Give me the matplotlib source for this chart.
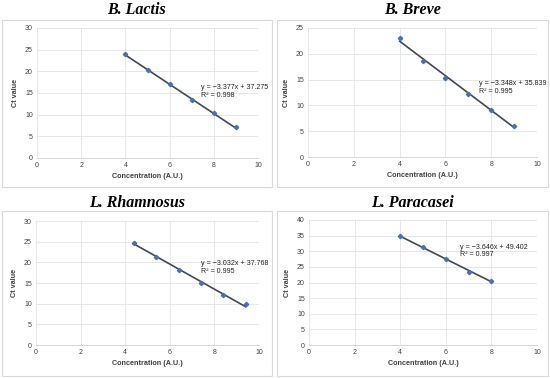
import matplotlib
matplotlib.use("Agg")
import matplotlib.pyplot as plt
from matplotlib.patches import Rectangle
import numpy as np

plt.rcParams['font.family'] = ['Liberation Sans', 'DejaVu Sans']

titles = ["B. Lactis", "B. Breve", "L. Rhamnosus", "L. Paracasei"]
x_lactis = [4, 5, 6, 7, 8, 9]
y_lactis = [24.0, 20.2, 17.0, 13.3, 10.3, 7.1]
x_breve = [4, 5, 6, 7, 8, 9]
y_breve = [23.0, 18.7, 15.4, 12.2, 9.1, 6.0]
x_rham = [4.4, 5.4, 6.4, 7.4, 8.4, 9.4]
y_rham = [24.7, 21.4, 18.2, 15.0, 12.0, 9.8]
x_para = [4, 5, 6, 7, 8]
y_para = [34.8, 31.3, 27.5, 23.4, 20.6]
slopes = [-3.377, -3.348, -3.032, -3.646]
intercepts = [37.275, 35.839, 37.768, 49.402]
r2 = [0.998, 0.995, 0.995, 0.997]
ymax = [30, 25, 30, 40]
eq_pos = [(7.44, 15.3), (7.47, 13.5), (7.42, 18.7), (6.63, 30.0)]

xs = [x_lactis, x_breve, x_rham, x_para]
ys = [y_lactis, y_breve, y_rham, y_para]

W, H = 550, 378
fig = plt.figure(figsize=(W / 100, H / 100), dpi=100)

# pixel boxes: (left, right, top, bottom)
axes_px = [(37, 258, 28, 158), (308, 537, 28, 157), (36, 259, 221, 345), (309, 537, 220, 345)]
frame_px = [(2, 272, 20, 187), (277, 548, 20, 187), (2, 272, 211, 376), (277, 548, 211, 376)]
title_y_px = [10, 10, 203, 203]

for i in range(4):
    fl, fr, ft, fb = frame_px[i]
    fig.patches.append(Rectangle((fl / W, 1 - fb / H), (fr - fl) / W, (fb - ft) / H,
                                 transform=fig.transFigure, fill=False,
                                 edgecolor="#d9d9d9", linewidth=0.8))
    l, r, t, b = axes_px[i]
    ax = fig.add_axes([l / W, 1 - b / H, (r - l) / W, (b - t) / H])
    ax.set_xlim(0, 10)
    ax.set_ylim(0, ymax[i])
    ax.set_xticks(np.arange(0, 11, 2))
    ax.set_yticks(np.arange(0, ymax[i] + 1, 5))
    ax.grid(True, color="#e3e3e3", linewidth=0.6)
    ax.set_axisbelow(True)
    for s in ["top", "right", "left"]:
        ax.spines[s].set_visible(False)
    ax.spines["bottom"].set_color("#d0d0d0")
    ax.spines["bottom"].set_linewidth(0.6)
    ax.tick_params(length=0, labelsize=5, colors="#404040", pad=3)
    xarr = np.array(xs[i])
    ax.plot(xarr, slopes[i] * xarr + intercepts[i], color="#3f4a55", linewidth=1.2, zorder=3)
    ax.plot(xs[i], ys[i], linestyle="none", marker="D", markersize=2.2,
            color="#4a6fb5", zorder=4)
    ex, ey = eq_pos[i]
    ax.text(ex, ey, f"y = \u2212{abs(slopes[i]):.3f}x + {intercepts[i]:.3f}\nR\u00b2 = {r2[i]:.3f}",
            fontsize=5.1, color="#222222", va="center", ha="left", linespacing=1.1, zorder=5,
            clip_on=False)
    ax.set_xlabel("Concentration (A.U.)", fontsize=5.2, color="#404040", fontweight="bold", labelpad=3)
    ax.set_ylabel("Ct value", fontsize=5.2, color="#404040", fontweight="bold", labelpad=4)
    fig.text((fl + fr) / 2 / W, 1 - title_y_px[i] / H, titles[i], ha="center", va="center",
             fontsize=11.5, fontstyle="italic", fontweight="bold", family="Liberation Serif")

fig.savefig("out.png", dpi=100)
